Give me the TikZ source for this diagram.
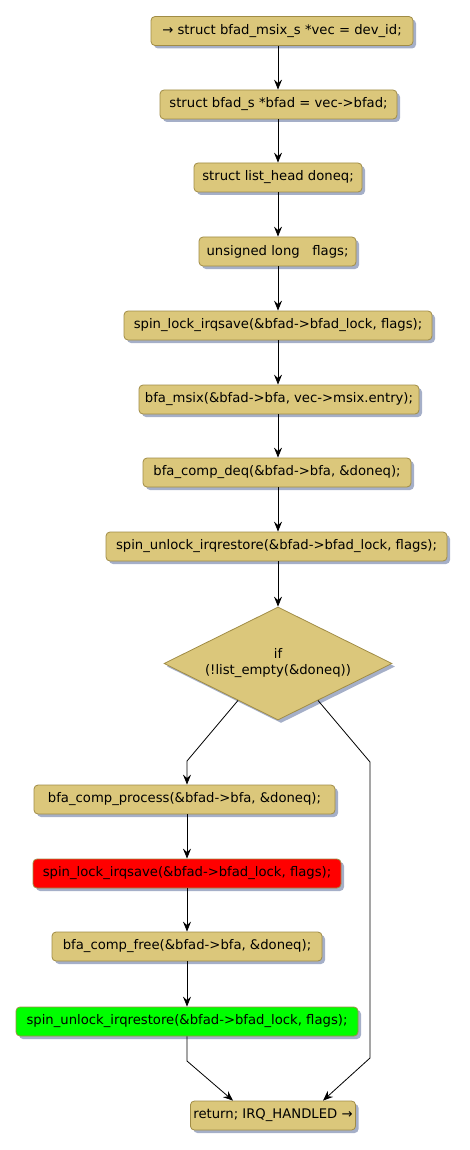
\documentclass[tikz,border=0pt]{standalone}
\usepackage{fontspec}
\setmainfont{DejaVu Sans}
\usetikzlibrary{shapes.geometric,arrows.meta,shadows,calc}
\definecolor{boxfill}{RGB}{219,199,123}
\definecolor{boxline}{RGB}{160,140,70}
\definecolor{shadowcol}{RGB}{165,175,200}
\definecolor{redfill}{RGB}{255,0,0}
\definecolor{greenfill}{RGB}{0,255,0}
\begin{document}
\begin{tikzpicture}[x=1pt,y=-1pt,
  act/.style={draw=boxline, fill=boxfill, rounded corners=4pt, line width=0.8pt,
    minimum height=29pt, inner xsep=3pt, inner ysep=0pt,
    font=\fontsize{13.2}{15}\selectfont,
    drop shadow={shadow xshift=3pt, shadow yshift=-3pt, fill=shadowcol, opacity=1}},
  cond/.style={diamond, aspect=2.02, draw=boxline, fill=boxfill, line width=0.8pt, inner sep=0pt,
    minimum width=228pt, minimum height=113pt, align=center,
    font=\fontsize{13.2}{16}\selectfont,
    drop shadow={shadow xshift=3pt, shadow yshift=-3pt, fill=shadowcol, opacity=1}},
  flow/.style={draw=black, line width=0.8pt, -{Stealth[length=10pt,width=8pt,inset=3.5pt]}}]
\useasboundingbox (0,0) rectangle (469,1150);
\coordinate (axis) at (278,0);
\coordinate (laxis) at (187,0);
\node[act, minimum width=262pt] (b1) at (282,31) {→ struct bfad\_msix\_s *vec = dev\_id;};
\node[act, minimum width=237pt] (b2) at (278.5,104.5) {struct bfad\_s *bfad = vec->bfad;};
\node[act, minimum width=168pt] (b3) at (278,177.5) {struct list\_head doneq;};
\node[act, minimum width=157pt] (b4) at (277.5,251.5) {unsigned long\ \ \ flags;};
\node[act, minimum width=308pt] (b5) at (278,325.5) {spin\_lock\_irqsave(\&bfad->bfad\_lock, flags);};
\node[act, minimum width=280pt] (b6) at (279,399.5) {bfa\_msix(\&bfad->bfa, vec->msix.entry);};
\node[act, minimum width=268pt] (b7) at (277,472.5) {bfa\_comp\_deq(\&bfad->bfa, \&doneq);};
\node[act, minimum width=341pt] (b8) at (276.5,546.5) {spin\_unlock\_irqrestore(\&bfad->bfad\_lock, flags);};
\node[cond] (d) at (278,663.5) {if\\(!list\_empty(\&doneq))};
\node[act, minimum width=301pt] (b10) at (184.5,799.5) {bfa\_comp\_process(\&bfad->bfa, \&doneq);};
\node[act, minimum width=308pt, fill=redfill] (b11) at (187,873.5) {spin\_lock\_irqsave(\&bfad->bfad\_lock, flags);};
\node[act, minimum width=270pt] (b12) at (187,946.5) {bfa\_comp\_free(\&bfad->bfa, \&doneq);};
\node[act, minimum width=342pt, fill=greenfill] (b13) at (187,1021.5) {spin\_unlock\_irqrestore(\&bfad->bfad\_lock, flags);};
\node[act, minimum width=164pt] (b14) at (273,1115.5) {return; IRQ\_HANDLED →};
\coordinate (dl) at ($(d.south)!0.35!(d.west)$);
\coordinate (dr) at ($(d.south)!0.35!(d.east)$);
\coordinate (lbend) at (187,761);
\coordinate (rbend) at (370,762);
\coordinate (rlow) at (370,1058);
\coordinate (lbend2) at (187,1061);
\draw[flow] (b1.south -| axis) -- (b2.north -| axis);
\draw[flow] (b2.south -| axis) -- (b3.north -| axis);
\draw[flow] (b3.south -| axis) -- (b4.north -| axis);
\draw[flow] (b4.south -| axis) -- (b5.north -| axis);
\draw[flow] (b5.south -| axis) -- (b6.north -| axis);
\draw[flow] (b6.south -| axis) -- (b7.north -| axis);
\draw[flow] (b7.south -| axis) -- (b8.north -| axis);
\draw[flow] (b8.south -| axis) -- (d.north);
\draw[flow] (dl) -- (lbend) -- (b10.north -| lbend);
\draw[flow] (b10.south -| laxis) -- (b11.north -| laxis);
\draw[flow] (b11.south -| laxis) -- (b12.north -| laxis);
\draw[flow] (b12.south -| laxis) -- (b13.north -| laxis);
\draw[flow] (b13.south -| laxis) -- (lbend2) -- ([xshift=-40pt]b14.north);
\draw[flow] (dr) -- (rbend) -- (rlow) -- ([xshift=50pt]b14.north);
\end{tikzpicture}
\end{document}
